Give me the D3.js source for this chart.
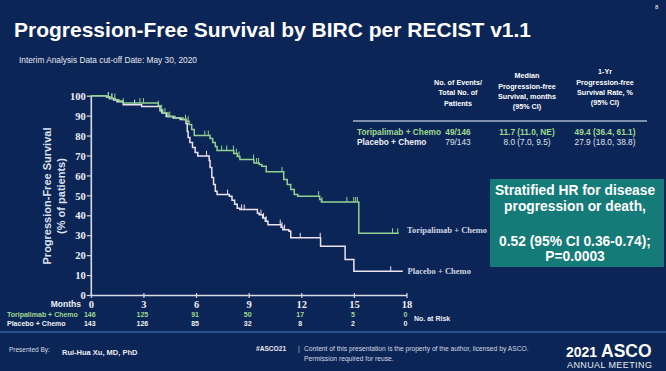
<!DOCTYPE html>
<html>
<head>
<meta charset="utf-8">
<script src="https://cdn.jsdelivr.net/npm/d3@7"></script>
<style>
  html, body { margin: 0; padding: 0; background: #0b2557; overflow: hidden; }
  svg { display: block; }
  text { font-family: "Liberation Sans", Arial, sans-serif; }
  .serif { font-family: "Liberation Serif", "Times New Roman", serif; }
</style>
</head>
<body>
<svg id="chart" width="666" height="371"></svg>
<script>
// ---------- DATA ----------
const months = [0, 3, 6, 9, 12, 15, 18];
const yTicks = [0, 10, 20, 30, 40, 50, 60, 70, 80, 90, 100];
const armNames = ["Toripalimab + Chemo", "Placebo + Chemo"];

// Kaplan–Meier steps: [month, survival %] (value after the step)
const toriSteps = [[0,100],[0.9,99.3],[1.1,98.6],[1.4,98],[1.6,97.3],[1.85,96.3],[3.85,95],[3.95,93],[4.1,91.3],[4.4,89.6],[4.8,88.8],[5.25,88],[5.45,87.2],[5.6,85.5],[5.75,83],[5.9,80],[6.8,78.5],[6.95,76.5],[7.1,74.5],[7.2,72.5],[8.15,71],[8.35,69.5],[8.5,68],[9.3,66.2],[9.6,65.5],[9.75,64.6],[10.0,61.8],[11.0,57.9],[11.2,55.4],[11.4,52.9],[11.6,50.4],[11.8,49.6],[13.05,47.9],[13.15,46.7],[15.28,31]];
const toriEnd = 17.56;
const toriCensor = [1.0,1.2,1.37,1.85,2.8,3.0,3.85,4.04,4.23,4.5,5.4,5.55,6.5,6.7,7.46,7.75,8.13,8.3,8.45,9.28,9.45,9.56,10.9,12.99,13.18,14.6,14.99,15.1,15.2,17.2,17.5];

const placSteps = [[0,100],[0.9,99.3],[1.05,98.6],[1.3,97.8],[1.5,97],[1.85,95.5],[2.9,94.6],[3.95,92.5],[4.05,91.3],[4.3,89.6],[4.7,88.8],[5.1,88],[5.43,86],[5.5,82],[5.55,79],[5.65,76.5],[5.8,74],[5.95,71.5],[6.1,69.8],[6.75,67.5],[6.8,64],[6.9,59],[7.0,55.4],[7.1,52],[7.2,50.4],[7.9,49.5],[8.05,47.5],[8.2,45.5],[8.35,43.5],[8.5,42.9],[9.5,41],[9.6,40.3],[9.8,38.6],[9.95,37],[10.1,35.3],[10.85,34],[10.95,32.8],[11.3,32],[11.4,28.7],[13.1,24.5],[14.5,17.8],[15.0,11.9]];
const placEnd = 17.79;
const placCensor = [1.0,1.2,2.5,6.6,7.8,8.6,8.75,9.7,9.85,10.0,10.8,10.9,11.05,11.94,13.08,17.1];

const atRiskTori = [146, 125, 91, 50, 17, 5, 0];
const atRiskPlac = [143, 126, 85, 32, 8, 2, 0];

const tableHeaders = [
  ["No. of Events/", "Total No. of", "Patients"],
  ["Median", "Progression-free", "Survival, months", "(95% CI)"],
  ["1-Yr", "Progression-free", "Survival Rate, %", "(95% CI)"]
];
const toriRow = ["49/146", "11.7 (11.0, NE)", "49.4 (36.4, 61.1)"];
const placRow = ["79/143", "8.0 (7.0, 9.5)", "27.9 (18.0, 38.8)"];
const hrLines = ["Stratified HR for disease", "progression or death,", "", "0.52 (95% CI 0.36-0.74);", "P=0.0003"];

// ---------- STYLE ----------
const C = {
  bg: "#0b2557", white: "#ffffff", axis: "#d6dbe8", green: "#93d18e",
  placebo: "#ece3f0", greenText: "#9fd98f", box: "#157b79", label: "#d0d4e0"
};

const svg = d3.select("#chart");
svg.append("rect").attr("width", 666).attr("height", 371).attr("fill", C.bg);

// Title
svg.append("text").attr("x", 14).attr("y", 37).attr("fill", C.white)
  .attr("font-size", 21).attr("font-weight", "bold")
  .text("Progression-Free Survival by BIRC per RECIST v1.1");
svg.append("text").attr("x", 19).attr("y", 63).attr("fill", "#e4e8f0")
  .attr("font-size", 8.3).text("Interim Analysis Data cut-off Date: May 30, 2020");
svg.append("text").attr("x", 655).attr("y", 9).attr("fill", "#c9cfdc")
  .attr("font-size", 6).attr("font-weight", "bold").text("8");

// Scales
const x = d3.scaleLinear().domain([0, 18]).range([90.8, 406.5]);
const y = d3.scaleLinear().domain([0, 100]).range([295, 95.7]);

// Axes
const gy = svg.append("g").attr("transform", `translate(${x(0)},0)`)
  .call(d3.axisLeft(y).tickValues(yTicks).tickSize(4).tickPadding(1).tickSizeOuter(0));
const gx = svg.append("g").attr("transform", `translate(0,${y(0)})`)
  .call(d3.axisBottom(x).tickValues(months).tickSize(3).tickPadding(3).tickSizeOuter(0));
[gx, gy].forEach(g => {
  g.select(".domain").attr("stroke", C.axis).attr("stroke-width", 1.6);
  g.selectAll(".tick line").attr("stroke", C.axis).attr("stroke-width", 1.2);
  g.selectAll(".tick text").attr("fill", "#eef0f5").attr("class", "serif")
    .attr("font-size", 10.5).attr("font-weight", "bold");
});
gx.selectAll(".tick line").attr("y1", -2);
gy.selectAll(".tick text").attr("dy", "0.35em");

// Y-axis title
const yt = svg.append("text").attr("transform", `translate(51,196) rotate(-90)`)
  .attr("fill", "#dde2ec").attr("font-size", 11).attr("font-weight", "bold")
  .attr("text-anchor", "middle");
yt.append("tspan").attr("x", 0).attr("dy", 0).text("Progression-Free Survival");
yt.append("tspan").attr("x", 0).attr("dy", 14).text("(% of patients)");

// KM curves
function survAt(steps, t) {
  let s = steps[0][1];
  for (const [tt, v] of steps) { if (tt <= t) s = v; else break; }
  return s;
}
const line = d3.line().x(d => x(d[0])).y(d => y(d[1])).curve(d3.curveStepAfter);
function drawArm(steps, end, censor, color) {
  const pts = steps.concat([[end, steps[steps.length - 1][1]]]);
  svg.append("path").datum(pts).attr("d", line).attr("fill", "none")
    .attr("stroke", color).attr("stroke-width", 1.5);
  svg.append("g").selectAll("line").data(censor).join("line")
    .attr("x1", d => x(d)).attr("x2", d => x(d))
    .attr("y1", d => y(survAt(steps, d))).attr("y2", d => y(survAt(steps, d)) - 5)
    .attr("stroke", color).attr("stroke-width", 1);
}
drawArm(placSteps, placEnd, placCensor, C.placebo);
drawArm(toriSteps, toriEnd, toriCensor, C.green);

// Curve labels
svg.append("text").attr("class", "serif").attr("x", x(18) + 0.5).attr("y", y(31) - 3)
  .attr("dy", "0.35em").attr("fill", C.label).attr("font-size", 8.5).attr("font-weight", "bold")
  .text(armNames[0]);
svg.append("text").attr("class", "serif").attr("x", x(18) + 1).attr("y", y(11.9))
  .attr("dy", "0.35em").attr("fill", C.label).attr("font-size", 8.5).attr("font-weight", "bold")
  .text(armNames[1]);

// At-risk table
svg.append("text").attr("x", 81).attr("y", 304.5).attr("dy", "0.35em")
  .attr("text-anchor", "end").attr("fill", "#eef0f5").attr("font-size", 8.5)
  .attr("font-weight", "bold").text("Months");
svg.append("text").attr("x", 7).attr("y", 315).attr("dy", "0.35em").attr("fill", C.greenText)
  .attr("font-size", 7).attr("font-weight", "bold").text(armNames[0]);
svg.append("text").attr("x", 7).attr("y", 323.5).attr("dy", "0.35em").attr("fill", "#eef0f5")
  .attr("font-size", 7).attr("font-weight", "bold").text(armNames[1]);
svg.append("g").selectAll("text").data(atRiskTori).join("text")
  .attr("x", (d, i) => x(months[i]) - 1).attr("y", 315).attr("dy", "0.35em")
  .attr("text-anchor", "middle").attr("fill", C.greenText).attr("font-size", 7)
  .attr("font-weight", "bold").text(d => d);
svg.append("g").selectAll("text").data(atRiskPlac).join("text")
  .attr("x", (d, i) => x(months[i]) - 1).attr("y", 323.5).attr("dy", "0.35em")
  .attr("text-anchor", "middle").attr("fill", "#eef0f5").attr("font-size", 7)
  .attr("font-weight", "bold").text(d => d);
svg.append("text").attr("x", 414).attr("y", 318.5).attr("dy", "0.35em")
  .attr("fill", "#eef0f5").attr("font-size", 7).attr("font-weight", "bold").text("No. at Risk");

// Summary table
const colX = [458, 527, 605];
const headerY = [[82.3, 92.7, 103.3], [75.7, 86.5, 96.7, 106.7], [71.7, 82.3, 92.3, 102]];
tableHeaders.forEach((lines, c) => {
  lines.forEach((t, j) => {
    svg.append("text").attr("x", colX[c]).attr("y", headerY[c][j]).attr("dy", "0.35em")
      .attr("text-anchor", "middle").attr("fill", C.white).attr("font-size", 7.2)
      .attr("font-weight", "bold").text(t);
  });
});
svg.append("line").attr("x1", 353).attr("x2", 647).attr("y1", 121).attr("y2", 121)
  .attr("stroke", "#a9b4cc").attr("stroke-width", 1.5);
svg.append("text").attr("x", 357).attr("y", 132.3).attr("dy", "0.35em").attr("fill", C.greenText)
  .attr("font-size", 8.3).attr("font-weight", "bold").text(armNames[0]);
svg.append("text").attr("x", 357).attr("y", 142.3).attr("dy", "0.35em").attr("fill", "#eef0f5")
  .attr("font-size", 8.3).attr("font-weight", "bold").text(armNames[1]);
toriRow.forEach((t, c) => {
  svg.append("text").attr("x", colX[c]).attr("y", 132.3).attr("dy", "0.35em")
    .attr("text-anchor", "middle").attr("fill", C.greenText).attr("font-size", 8.3)
    .attr("font-weight", "bold").text(t);
});
placRow.forEach((t, c) => {
  svg.append("text").attr("x", colX[c]).attr("y", 142.3).attr("dy", "0.35em")
    .attr("text-anchor", "middle").attr("fill", "#dfe3ec").attr("font-size", 8.3)
    .text(t);
});

// HR box
svg.append("rect").attr("x", 490).attr("y", 179).attr("width", 174).attr("height", 88)
  .attr("fill", C.box);
const hrY = [190, 206.5, 224, 241.5, 256.5];
hrLines.forEach((t, i) => {
  svg.append("text").attr("x", 575).attr("y", hrY[i]).attr("dy", "0.35em")
    .attr("text-anchor", "middle").attr("fill", C.white).attr("font-size", 13.8)
    .attr("font-weight", "bold").text(t);
});

// Footer
svg.append("line").attr("x1", 0).attr("x2", 666).attr("y1", 332).attr("y2", 332)
  .attr("stroke", "#3f7fc8").attr("stroke-width", 1);
svg.append("text").attr("x", 9).attr("y", 349.5).attr("dy", "0.35em").attr("fill", "#d5dae5")
  .attr("font-size", 6.5).text("Presented By:");
svg.append("text").attr("x", 62).attr("y", 352).attr("dy", "0.35em").attr("fill", "#e8ebf2")
  .attr("font-size", 7.5).attr("font-weight", "bold").text("Rui-Hua Xu, MD, PhD");
svg.append("text").attr("x", 256).attr("y", 348.5).attr("dy", "0.35em").attr("fill", "#e8ebf2")
  .attr("font-size", 6.6).attr("font-weight", "bold").text("#ASCO21");
svg.append("text").attr("x", 298).attr("y", 348.5).attr("dy", "0.35em").attr("fill", "#c9cfdc")
  .attr("font-size", 6.6).text("|");
svg.append("text").attr("x", 304).attr("y", 348.5).attr("dy", "0.35em").attr("fill", "#d5dae5")
  .attr("font-size", 6.7).text("Content of this presentation is the property of the author, licensed by ASCO.");
svg.append("text").attr("x", 304).attr("y", 359).attr("dy", "0.35em").attr("fill", "#d5dae5")
  .attr("font-size", 6.7).text("Permission required for reuse.");
const logo = svg.append("text").attr("x", 566).attr("y", 357).attr("fill", C.white).attr("font-weight", "bold");
logo.append("tspan").attr("font-size", 14).text("2021 ");
logo.append("tspan").attr("font-size", 17.5).text("ASCO");
svg.append("text").attr("x", 567).attr("y", 368).attr("fill", "#e8ebf2")
  .attr("font-size", 9).attr("letter-spacing", 0.4).text("ANNUAL MEETING");
</script>
</body>
</html>
